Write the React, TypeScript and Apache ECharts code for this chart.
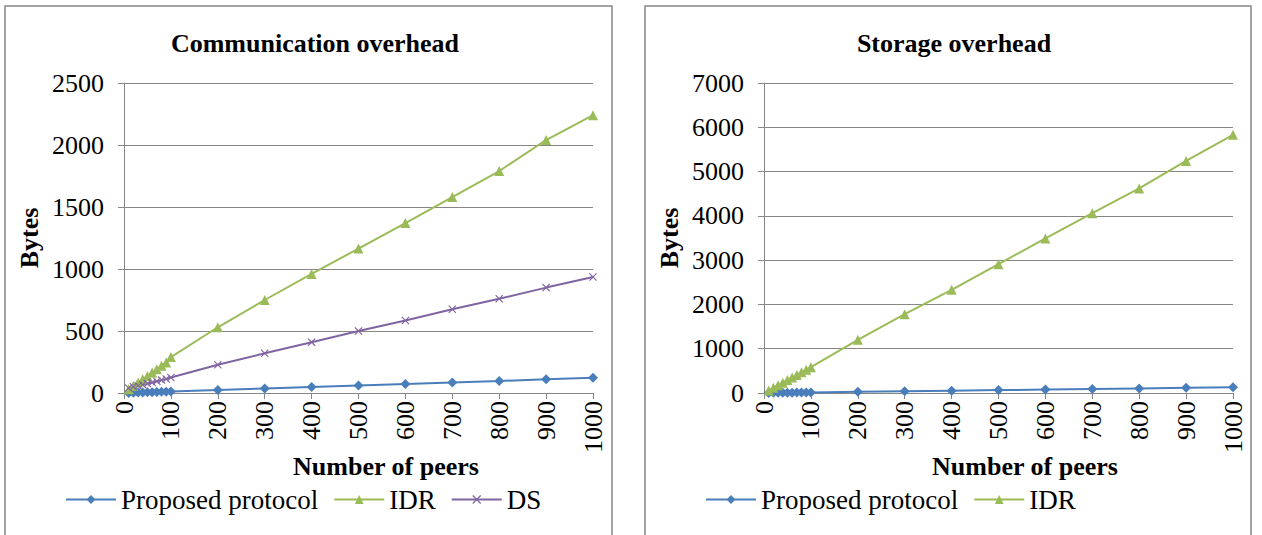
import React, { useEffect, useRef } from "react";
import * as echarts from "echarts";

const peers = [10, 20, 30, 40, 50, 60, 70, 80, 90, 100, 200, 300, 400, 500, 600, 700, 800, 900, 1000];

const commProposed = [1, 2, 4, 5, 6, 7, 9, 10, 11, 12, 25, 37, 49, 61, 73, 85, 97, 110, 122];
const commIDR = [30, 57, 84, 111, 138, 165, 192, 219, 246, 290, 530, 750, 960, 1165, 1370, 1580, 1790, 2040, 2240];
const commDS = [40, 50, 58, 67, 76, 85, 95, 104, 113, 125, 228, 320, 410, 500, 585, 675, 760, 850, 935];

const storProposed = [1, 3, 4, 5, 7, 8, 9, 10, 12, 13, 26, 39, 52, 65, 78, 91, 104, 117, 130];
const storIDR = [58, 117, 175, 234, 292, 350, 409, 467, 526, 584, 1200, 1780, 2330, 2910, 3490, 4060, 4620, 5240, 5830];

const titles = ["Communication overhead", "Storage overhead"];
const xName = "Number of peers";
const yName = "Bytes";

const BLUE = "#4a7ebb";
const GREEN = "#9bbb59";
const PURPLE = "#8064a2";
const GRAY = "#868686";
const FONT = "Liberation Serif";
const X_ICON = "path://M0,1L1,0L5,4L9,0L10,1L6,5L10,9L9,10L5,6L1,10L0,9L4,5Z";

const pairs = (ys: number[]) => peers.map((p, i) => [p, ys[i]]);

export default function App() {
  const ref = useRef<HTMLDivElement>(null);
  useEffect(() => {
    if (!ref.current) return;
    const chart = echarts.init(ref.current, undefined, { renderer: "svg" });
    const plain = (v: number) => String(v);
    const xAxisBase = (gridIndex: number) => ({
      type: "value",
      gridIndex,
      min: 0,
      max: 1000,
      interval: 100,
      axisLine: { show: true, lineStyle: { color: GRAY, width: 1 } },
      axisTick: { show: true, length: 6, lineStyle: { color: GRAY } },
      splitLine: { show: false },
      axisLabel: { rotate: 90, margin: 8, color: "#000", fontFamily: FONT, fontSize: 26, formatter: plain },
    });
    const yAxisBase = (gridIndex: number, max: number, interval: number) => ({
      type: "value",
      gridIndex,
      min: 0,
      max,
      interval,
      name: yName,
      nameLocation: "middle",
      nameGap: 82,
      nameTextStyle: { color: "#000", fontFamily: FONT, fontSize: 26, fontWeight: "bold" },
      axisLine: { show: true, lineStyle: { color: GRAY, width: 1 } },
      axisTick: { show: true, length: 6, lineStyle: { color: GRAY } },
      splitLine: { show: true, lineStyle: { color: GRAY, width: 1 } },
      axisLabel: { margin: 20, color: "#000", fontFamily: FONT, fontSize: 26, formatter: plain },
    });
    const lineSeries = (name: string, data: number[], idx: number, color: string, symbol: string, size: number) => ({
      type: "line",
      name,
      xAxisIndex: idx,
      yAxisIndex: idx,
      data: pairs(data),
      symbol,
      symbolSize: size,
      lineStyle: { color, width: 2 },
      itemStyle: { color },
    });
    const legendText = { color: "#000", fontFamily: FONT, fontSize: 27 };
    chart.setOption({
      animation: false,
      title: [
        { text: titles[0], left: 310, top: 25, textAlign: "center", textStyle: { fontFamily: FONT, fontSize: 26, fontWeight: "bold", color: "#000" } },
        { text: titles[1], left: 949, top: 25, textAlign: "center", textStyle: { fontFamily: FONT, fontSize: 26, fontWeight: "bold", color: "#000" } },
      ],
      grid: [
        { left: 124, top: 83, width: 469, height: 310 },
        { left: 764, top: 83, width: 469, height: 310 },
      ],
      xAxis: [xAxisBase(0), xAxisBase(1)],
      yAxis: [yAxisBase(0, 2500, 500), yAxisBase(1, 7000, 1000)],
      legend: [
        { data: ["Proposed protocol", "IDR", "DS"], left: 60, top: 481, itemWidth: 50, itemHeight: 11, itemGap: 15, textStyle: legendText, selectedMode: false },
        { data: ["Proposed protocol", "IDR"], left: 700, top: 481, itemWidth: 50, itemHeight: 11, itemGap: 15, textStyle: legendText, selectedMode: false },
      ],
      graphic: [
        { type: "rect", shape: { x: 5, y: 6, width: 607, height: 560 }, style: { fill: "none", stroke: GRAY, lineWidth: 1.5 }, silent: true },
        { type: "rect", shape: { x: 645, y: 6, width: 606, height: 560 }, style: { fill: "none", stroke: GRAY, lineWidth: 1.5 }, silent: true },
        { type: "text", x: 386, y: 466, style: { text: xName, font: `bold 26px '${FONT}'`, fill: "#000", align: "center", verticalAlign: "middle" } },
        { type: "text", x: 1025, y: 466, style: { text: xName, font: `bold 26px '${FONT}'`, fill: "#000", align: "center", verticalAlign: "middle" } },
      ],
      series: [
        lineSeries("Proposed protocol", commProposed, 0, BLUE, "diamond", 10),
        lineSeries("IDR", commIDR, 0, GREEN, "triangle", 10),
        lineSeries("DS", commDS, 0, PURPLE, X_ICON, 8),
        lineSeries("Proposed protocol", storProposed, 1, BLUE, "diamond", 10),
        lineSeries("IDR", storIDR, 1, GREEN, "triangle", 10),
      ],
    });
    return () => chart.dispose();
  }, []);
  return <div ref={ref} style={{ position: "fixed", left: 0, top: 0, width: 1262, height: 535, background: "#fff" }} />;
}
